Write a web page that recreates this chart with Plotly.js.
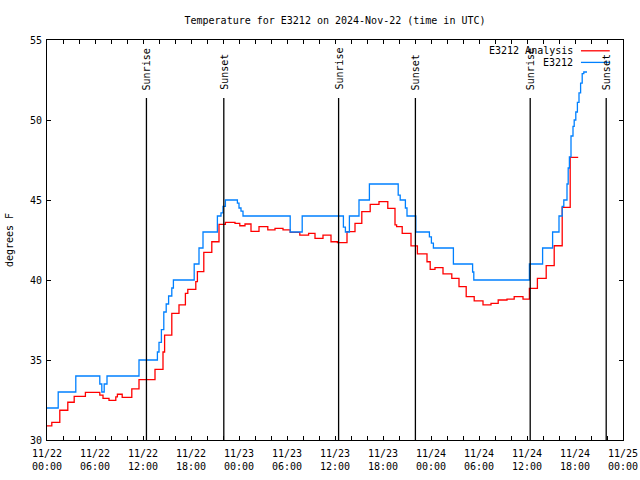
<!DOCTYPE html>
<html>
<head>
<meta charset="utf-8">
<script src="https://cdn.plot.ly/plotly-3.0.1.min.js"></script>
<style>html,body{margin:0;padding:0;background:#fff;}#chart{width:640px;height:480px;}</style>
</head>
<body>
<div id="chart"></div>
<script>
// Hours since 2024-11-22 00:00 UTC
const analysisHours = [0,0.6,1.6,2.6,3.4,4.8,6.6,7.0,7.75,8.6,8.8,9.4,10.6,11.5,13.5,14.5,14.7,15.6,16.5,17.3,17.6,18.6,18.8,19.6,20.6,21.5,22.3,23.5,24.1,24.75,25.5,26.5,27.6,28.5,29.5,30.4,31.6,32.7,33.5,34.5,35.5,36.3,37.5,38.5,39.35,40.4,41.5,42.6,43.5,43.7,44.4,45.5,46.3,47.5,47.9,48.5,49.5,50.6,51.5,52.4,53.4,54.5,55.5,56.4,57.5,58.4,59.5,60.3,61.3,62.4,63.4,64.4,65.4,66.4];
const analysisTemp = [30.88,31.1,31.86,32.36,32.73,32.98,32.8,32.6,32.48,32.7,32.86,32.67,33.19,33.77,34.42,35.5,36.56,37.92,38.44,39.17,39.42,39.9,40.52,41.73,42.39,43.48,43.6,43.54,43.39,43.5,43.04,43.33,43.13,43.23,43.13,42.98,42.81,42.92,42.6,42.81,42.39,42.33,43.02,43.54,44.27,44.73,44.9,44.48,43.44,43.33,42.92,42.13,41.63,41.14,40.67,40.77,40.38,40.1,39.58,38.96,38.69,38.44,38.54,38.75,38.8,38.96,38.8,39.48,40.1,40.9,42.14,44.54,47.67,47.67];

const obsHours = [0,1.4,3.6,6.6,6.85,7.15,7.5,11.5,13.8,14.0,14.3,14.6,14.9,15.2,15.6,15.8,18.4,19.0,19.5,21.3,21.75,22.0,22.3,23.8,24.0,24.25,24.5,30.4,31.9,37.05,37.3,37.8,39.0,40.3,43.9,44.15,44.8,45.0,46.1,47.8,48.05,48.3,50.8,53.2,53.35,60.3,61.95,63.2,64.0,64.4,64.6,65.0,65.15,65.3,65.5,65.75,65.9,66.1,66.3,66.5,66.7,66.9,67.1,67.5];
const obsTemp = [32,33,34,33.5,33,33.5,34,35,35.5,36.1,36.9,38.0,38.5,39.0,39.5,40,41,42,43,44,44.2,44.6,45,44.8,44.5,44.3,44,43,44,43.3,43,44,45,46,45.3,45,44.5,44,43,42.7,42.3,42,41,40.5,40,41,42,43,44,44.6,45,46,47,47.7,49,49.6,50,50.5,51.1,51.7,52.3,52.9,53,53];

const sunriseHours = [12.43, 36.45, 60.4];
const sunsetHours = [22.1, 46.05, 69.9];

const tickHours = [0,6,12,18,24,30,36,42,48,54,60,66,72];
const tickDates = ["11/22","11/22","11/22","11/22","11/23","11/23","11/23","11/23","11/24","11/24","11/24","11/24","11/25"];
const tickTimes = ["00:00","06:00","12:00","18:00","00:00","06:00","12:00","18:00","00:00","06:00","12:00","18:00","00:00"];

const seriesNames = ["E3212 Analysis", "E3212"];
const seriesColors = ["#ff0000", "#0080ff"];

const FONT = "DejaVu Sans Mono, Liberation Mono, monospace";

// ticks every 2 hours, labels every 6 hours
const allTickVals = [];
const allTickText = [];
for (let h = 0; h <= 72; h += 2) {
  allTickVals.push(h);
  const i = tickHours.indexOf(h);
  allTickText.push(i >= 0 ? tickDates[i] + "<br>" + tickTimes[i] : "");
}

const traces = [
  {x: analysisHours, y: analysisTemp, type: "scatter", mode: "lines", line: {shape: "hv", color: seriesColors[0], width: 1.3}, name: seriesNames[0], hoverinfo: "skip"},
  {x: obsHours, y: obsTemp, type: "scatter", mode: "lines", line: {shape: "hv", color: seriesColors[1], width: 1.3}, name: seriesNames[1], hoverinfo: "skip"}
];

const shapes = [];
const annotations = [];
const sunTop = 0.855;
sunriseHours.forEach(h => {
  shapes.push({type: "line", xref: "x", yref: "paper", x0: h, x1: h, y0: 0, y1: sunTop, line: {color: "#000", width: 1.3}});
  annotations.push({xref: "x", yref: "paper", x: h, y: 0.87, text: "Sunrise", textangle: -90, showarrow: false, xanchor: "center", yanchor: "bottom", font: {family: FONT, size: 10, color: "#000"}});
});
sunsetHours.forEach(h => {
  shapes.push({type: "line", xref: "x", yref: "paper", x0: h, x1: h, y0: 0, y1: sunTop, line: {color: "#000", width: 1.3}});
  annotations.push({xref: "x", yref: "paper", x: h, y: 0.87, text: "Sunset", textangle: -90, showarrow: false, xanchor: "center", yanchor: "bottom", font: {family: FONT, size: 10, color: "#000"}});
});

// manual gnuplot-style legend (text then line sample)
const legendRows = [0.973, 0.944];
seriesNames.forEach((n, i) => {
  annotations.push({xref: "paper", yref: "paper", x: 0.9167, y: legendRows[i], text: n, showarrow: false, xanchor: "right", yanchor: "middle", font: {family: FONT, size: 10, color: "#000"}});
  shapes.push({type: "line", xref: "paper", yref: "paper", x0: 0.927, x1: 0.977, y0: legendRows[i], y1: legendRows[i], line: {color: seriesColors[i], width: 1.3}});
});

const layout = {
  width: 640, height: 480,
  margin: {l: 47, r: 17, t: 40, b: 40, pad: 0},
  paper_bgcolor: "#fff", plot_bgcolor: "#fff",
  showlegend: false,
  title: {text: "Temperature for E3212 on 2024-Nov-22 (time in UTC)", x: 0.5, xref: "paper", y: 0.958, yanchor: "middle", font: {family: FONT, size: 10, color: "#000"}},
  font: {family: FONT, size: 10, color: "#000"},
  xaxis: {
    range: [0, 72], showgrid: false, zeroline: false,
    showline: true, linecolor: "#000", linewidth: 1, mirror: "ticks",
    ticks: "inside", ticklen: 4, tickcolor: "#000", tickwidth: 1,
    tickmode: "array", tickvals: allTickVals, ticktext: allTickText,
    ticklabelstandoff: 4,
    tickfont: {family: FONT, size: 10, color: "#000"}
  },
  yaxis: {
    range: [30, 55], showgrid: false, zeroline: false,
    showline: true, linecolor: "#000", linewidth: 1, mirror: "ticks",
    ticks: "inside", ticklen: 4, tickcolor: "#000", tickwidth: 1,
    tickmode: "linear", tick0: 30, dtick: 5,
    ticklabelstandoff: 2,
    tickfont: {family: FONT, size: 10, color: "#000"},
    title: {text: "degrees F", font: {family: FONT, size: 10, color: "#000"}, standoff: 14}
  },
  shapes: shapes,
  annotations: annotations
};

Plotly.newPlot("chart", traces, layout, {staticPlot: true, displayModeBar: false});
</script>
</body>
</html>
